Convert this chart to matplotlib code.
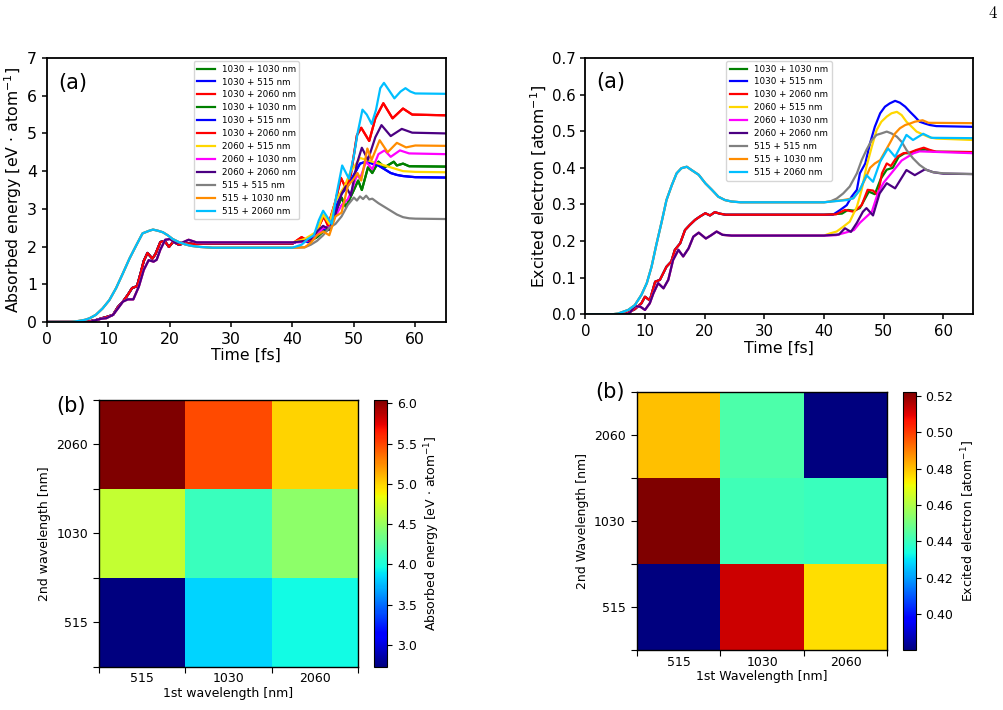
import matplotlib
matplotlib.use("Agg")
import matplotlib.pyplot as plt
import numpy as np

# ---------------- data: absorbed energy (eV/atom) ----------------
# first pulse (shared by all curves with the same 1st wavelength)
abs_first_515 = [(0, 0), (4, 0.0), (5.3, 0.03), (6.3, 0.06), (7, 0.1), (8, 0.19), (9.1, 0.36), (10.2, 0.58),
                 (11.3, 0.9), (12.4, 1.29), (13.5, 1.69), (14.6, 2.04), (15.6, 2.35), (16.7, 2.42), (17.3, 2.45),
                 (18.1, 2.42), (18.9, 2.38), (19.7, 2.3), (20.5, 2.2), (21.5, 2.12), (22.5, 2.06), (23.5, 2.02),
                 (25, 1.99), (27, 1.97), (40, 1.97)]
abs_first_1030 = [(0, 0), (6, 0), (7, 0.02), (8, 0.05), (9, 0.1), (9.9, 0.14), (10.8, 0.19), (11.6, 0.4),
                  (12.4, 0.54), (13.2, 0.72), (13.9, 0.9), (14.7, 0.95), (15.3, 1.3), (15.8, 1.62), (16.4, 1.83),
                  (17.2, 1.68), (17.7, 1.8), (18.5, 2.12), (19.2, 2.15), (19.9, 1.99), (20.6, 2.13), (21.5, 2.05),
                  (22.5, 2.09), (24, 2.07), (26, 2.08), (40, 2.08)]
abs_first_2060 = [(0, 0), (7, 0.0), (8, 0.05), (9, 0.09), (9.7, 0.1), (10.8, 0.19), (11.6, 0.36), (12.4, 0.54),
                  (13.2, 0.6), (14.1, 0.6), (15, 0.94), (15.8, 1.38), (16.6, 1.64), (17.4, 1.6), (17.9, 1.65),
                  (18.5, 1.92), (19.3, 2.18), (20.1, 2.2), (20.9, 2.1), (22, 2.1), (23.1, 2.18), (24.4, 2.11),
                  (26, 2.11), (40, 2.11)]
# second pulse, per (1st + 2nd) combination
abs_1030_1030 = [(41.5, 2.2), (42.5, 2.12), (44, 2.25), (45, 2.4), (46, 2.45), (47, 2.9), (48, 3.3), (48.7, 3.05),
                 (50, 3.5), (50.7, 3.75), (51.3, 3.5), (52.3, 4.1), (53, 3.95), (54, 4.25), (55, 4.1), (56.5, 4.25),
                 (57, 4.15), (58, 4.2), (59, 4.13), (65, 4.12)]
abs_1030_515 = [(41.5, 2.2), (42.5, 2.12), (44, 2.3), (45, 2.45), (46, 2.55), (47, 3.0), (48, 3.4), (49, 3.6),
                (50, 3.9), (51, 4.2), (52, 4.25), (53, 4.2), (54, 4.15), (55, 4.05), (56, 3.95), (57, 3.9),
                (58, 3.87), (60, 3.84), (65, 3.83)]
abs_1030_2060 = [(41.5, 2.25), (42.5, 2.15), (43.5, 2.2), (44.5, 2.6), (45.1, 2.8), (45.8, 2.55), (47, 3.2),
                 (47.9, 3.82), (48.7, 3.55), (49.5, 3.9), (50.5, 4.95), (51.2, 5.15), (52.5, 4.8), (53.5, 5.4),
                 (54.8, 5.8), (56.3, 5.4), (58, 5.66), (59.5, 5.5), (65, 5.48)]
abs_2060_515 = [(42, 2.2), (44, 2.4), (45, 2.85), (46, 2.6), (47, 3.2), (48.5, 3.6), (49.5, 4.0), (50, 4.1),
                (51, 4.35), (52, 4.3), (53, 4.25), (54, 4.2), (55, 4.15), (56, 4.1), (57, 4.05), (58, 4.0),
                (60, 3.98), (65, 3.97)]
abs_2060_1030 = [(42, 2.12), (44, 2.3), (45, 2.5), (46, 2.5), (47, 2.8), (48, 3.1), (49, 3.25), (49.7, 3.5),
                 (50.5, 3.9), (51, 3.8), (52, 4.25), (53, 4.05), (54, 4.45), (55, 4.55), (56, 4.38), (57.5, 4.55),
                 (59, 4.47), (65, 4.45)]
abs_2060_2060 = [(42, 2.15), (43, 2.2), (44, 2.4), (45, 2.55), (46, 2.45), (47, 2.85), (48, 3.4), (48.7, 3.6),
                 (49.5, 3.35), (50.5, 4.2), (51.3, 4.62), (52.3, 4.3), (53.5, 4.9), (54.5, 5.22), (56, 4.93),
                 (57.8, 5.12), (59.5, 5.02), (65, 5.0)]
abs_515_515 = [(42, 1.98), (43, 2.05), (44, 2.15), (45, 2.3), (46, 2.5), (47, 2.6), (48, 2.8), (49, 3.1),
               (50, 3.3), (50.5, 3.22), (51, 3.33), (51.5, 3.26), (52, 3.35), (52.5, 3.25), (53, 3.27), (54, 3.15),
               (55, 3.05), (56, 2.95), (57, 2.85), (58, 2.78), (59, 2.75), (60, 2.74), (65, 2.73)]
abs_515_1030 = [(42, 1.98), (43, 2.1), (44, 2.3), (45, 2.4), (46, 2.3), (47, 2.8), (48, 2.9), (49, 3.6),
                (50, 3.8), (50.6, 3.95), (51.2, 3.75), (52.2, 4.6), (52.9, 4.3), (54.2, 4.82), (55.5, 4.5),
                (57, 4.75), (58.5, 4.63), (60, 4.68), (65, 4.67)]
abs_515_2060 = [(41.5, 2.05), (42.5, 2.2), (43.5, 2.3), (44.3, 2.7), (45, 2.95), (45.8, 2.75), (46.4, 2.6),
                (47.2, 3.4), (48.1, 4.15), (49.2, 3.8), (50, 4.4), (50.6, 5.0), (51.4, 5.63), (52.1, 5.5),
                (52.9, 5.25), (53.6, 5.62), (54.3, 6.2), (54.9, 6.34), (55.7, 6.15), (56.6, 5.93), (57.6, 6.11),
                (58.4, 6.2), (59.2, 6.11), (60, 6.06), (65, 6.05)]

# ---------------- data: excited electrons (1/atom) ----------------
exc_first_515 = [(0, 0), (4.5, 0), (5.5, 0.002), (7.2, 0.012), (8.3, 0.025), (9.4, 0.053), (10.3, 0.085),
                 (11.1, 0.13), (11.9, 0.19), (12.8, 0.253), (13.6, 0.312), (14.5, 0.353), (15.3, 0.385),
                 (16.1, 0.399), (17, 0.403), (17.8, 0.394), (19, 0.381), (20.1, 0.358), (21.2, 0.34),
                 (22.3, 0.321), (23.4, 0.312), (24.5, 0.308), (26, 0.306), (40, 0.306)]
exc_first_1030 = [(0, 0), (6, 0), (6.9, 0.002), (8.3, 0.014), (9.4, 0.03), (10, 0.048), (10.8, 0.038),
                  (11.7, 0.089), (12.5, 0.094), (13.6, 0.13), (14.4, 0.144), (15, 0.176), (15.9, 0.194),
                  (16.7, 0.23), (17.5, 0.244), (18.4, 0.258), (19.2, 0.267), (20.1, 0.276), (20.9, 0.27),
                  (21.7, 0.279), (22.5, 0.275), (23.5, 0.272), (25, 0.272), (40, 0.272)]
exc_first_2060 = [(0, 0), (7, 0), (7.5, 0.005), (8.3, 0.022), (9.2, 0.021), (10, 0.012), (10.8, 0.03),
                  (11.4, 0.057), (12.2, 0.085), (13.1, 0.071), (13.9, 0.094), (14.7, 0.148), (15.6, 0.176),
                  (16.4, 0.158), (17.3, 0.18), (18.1, 0.212), (19, 0.223), (20.2, 0.207), (21, 0.215),
                  (22, 0.226), (23, 0.217), (24.5, 0.215), (40, 0.215)]
exc_1030_1030 = [(43, 0.275), (44, 0.285), (45, 0.283), (46, 0.29), (47.5, 0.335), (48.5, 0.328), (49.5, 0.37),
                 (50.5, 0.395), (51.5, 0.4), (52.5, 0.43), (53.5, 0.44), (54.5, 0.44), (55.5, 0.448), (57, 0.45),
                 (58.5, 0.444), (65, 0.443)]
exc_1030_515 = [(41.5, 0.272), (42.7, 0.285), (43.8, 0.298), (44.6, 0.321), (45.5, 0.34), (46, 0.385),
                (46.9, 0.412), (47.7, 0.467), (48.5, 0.512), (49.4, 0.549), (50.2, 0.567), (51, 0.576),
                (51.9, 0.583), (52.7, 0.578), (53.6, 0.567), (54.4, 0.553), (55.2, 0.54), (56, 0.526),
                (56.9, 0.521), (57.7, 0.517), (58.8, 0.514), (65, 0.512)]
exc_1030_2060 = [(42, 0.273), (43.5, 0.285), (45, 0.28), (46.3, 0.298), (47.3, 0.34), (48.2, 0.338), (49, 0.325),
                 (49.7, 0.385), (50.5, 0.412), (51.2, 0.405), (52.2, 0.43), (53.3, 0.44), (54.4, 0.442),
                 (55.5, 0.449), (56.7, 0.455), (57.7, 0.449), (58.8, 0.444), (65, 0.443)]
exc_2060_515 = [(41, 0.221), (42.1, 0.226), (43.2, 0.239), (44.3, 0.253), (45.5, 0.294), (46.3, 0.34),
                (47.1, 0.403), (48, 0.458), (48.8, 0.503), (49.6, 0.526), (50.5, 0.54), (51.3, 0.549),
                (52.2, 0.553), (53, 0.544), (53.8, 0.526), (54.7, 0.512), (55.5, 0.499), (56.7, 0.49),
                (57.7, 0.483), (58.8, 0.48), (65, 0.476)]
exc_2060_1030 = [(42, 0.216), (44, 0.225), (45, 0.23), (46, 0.25), (47, 0.265), (48, 0.28), (49, 0.33),
                 (50, 0.36), (51, 0.38), (52, 0.4), (53, 0.42), (54, 0.43), (55, 0.44), (56, 0.445), (65, 0.44)]
exc_2060_2060 = [(42.5, 0.218), (43.5, 0.235), (44.5, 0.225), (45.5, 0.25), (46.5, 0.28), (47.1, 0.29),
                 (48.2, 0.27), (49.3, 0.33), (50.5, 0.358), (51.9, 0.344), (53.8, 0.394), (55.2, 0.38),
                 (56.9, 0.396), (58.3, 0.388), (60, 0.384), (65, 0.383)]
exc_515_515 = [(41, 0.308), (42.1, 0.316), (43.2, 0.33), (44.3, 0.349), (45.5, 0.385), (46.3, 0.421),
               (47.1, 0.449), (48, 0.476), (48.8, 0.49), (49.6, 0.494), (50.5, 0.499), (51.3, 0.494),
               (52.2, 0.485), (53, 0.471), (53.8, 0.449), (54.9, 0.426), (56, 0.408), (57.2, 0.394),
               (58.3, 0.388), (60, 0.385), (65, 0.383)]
exc_515_1030 = [(43.2, 0.312), (44.9, 0.317), (46, 0.34), (46.9, 0.37), (47.7, 0.4), (48.5, 0.412),
                (49.4, 0.421), (50.2, 0.444), (51, 0.467), (51.9, 0.494), (52.7, 0.508), (53.6, 0.517),
                (54.4, 0.521), (55.2, 0.526), (56.5, 0.53), (57.5, 0.523), (65, 0.522)]
exc_515_2060 = [(43.8, 0.312), (44.9, 0.317), (46, 0.34), (47.1, 0.38), (48.2, 0.362), (49.4, 0.417),
                (50.7, 0.453), (51.9, 0.43), (53.8, 0.49), (54.9, 0.476), (56.6, 0.493), (58, 0.482),
                (65, 0.481)]

# ---------------- heat-map values (rows: 2nd = 515, 1030, 2060; cols: 1st = 515, 1030, 2060) ----------------
wavelengths = ["515", "1030", "2060"]
abs_final = [[2.73, 3.83, 3.97],
             [4.67, 4.12, 4.45],
             [6.04, 5.48, 5.00]]
exc_final = [[0.3806, 0.512, 0.476],
             [0.522, 0.441, 0.440],
             [0.480, 0.443, 0.3804]]

# ---------------- styles ----------------
col = {"1030 + 1030 nm": "green", "1030 + 515 nm": "blue", "1030 + 2060 nm": "red",
       "2060 + 515 nm": "gold", "2060 + 1030 nm": "magenta", "2060 + 2060 nm": "indigo",
       "515 + 515 nm": "gray", "515 + 1030 nm": "darkorange", "515 + 2060 nm": "deepskyblue"}

abs_curves = [("1030 + 1030 nm", abs_first_1030, abs_1030_1030),
              ("1030 + 515 nm", abs_first_1030, abs_1030_515),
              ("1030 + 2060 nm", abs_first_1030, abs_1030_2060),
              ("1030 + 1030 nm", abs_first_1030, abs_1030_1030),
              ("1030 + 515 nm", abs_first_1030, abs_1030_515),
              ("1030 + 2060 nm", abs_first_1030, abs_1030_2060),
              ("2060 + 515 nm", abs_first_2060, abs_2060_515),
              ("2060 + 1030 nm", abs_first_2060, abs_2060_1030),
              ("2060 + 2060 nm", abs_first_2060, abs_2060_2060),
              ("515 + 515 nm", abs_first_515, abs_515_515),
              ("515 + 1030 nm", abs_first_515, abs_515_1030),
              ("515 + 2060 nm", abs_first_515, abs_515_2060)]
exc_curves = [("1030 + 1030 nm", exc_first_1030, exc_1030_1030),
              ("1030 + 515 nm", exc_first_1030, exc_1030_515),
              ("1030 + 2060 nm", exc_first_1030, exc_1030_2060),
              ("2060 + 515 nm", exc_first_2060, exc_2060_515),
              ("2060 + 1030 nm", exc_first_2060, exc_2060_1030),
              ("2060 + 2060 nm", exc_first_2060, exc_2060_2060),
              ("515 + 515 nm", exc_first_515, exc_515_515),
              ("515 + 1030 nm", exc_first_515, exc_515_1030),
              ("515 + 2060 nm", exc_first_515, exc_515_2060)]

W, H = 1004, 710
fig = plt.figure(figsize=(W / 100, H / 100), dpi=100)


def box(l, t, r, b):
    return [l / W, 1 - b / H, (r - l) / W, (b - t) / H]


def line_panel(ax, curves, ylim, ylabel, tsize):
    for lab, p1, p2 in curves:
        pts = p1 + p2
        t = [p[0] for p in pts]
        v = [p[1] for p in pts]
        ax.plot(t, v, color=col[lab], lw=1.6, label=lab)
    ax.set_xlim(0, 65)
    ax.set_ylim(*ylim)
    ax.set_xlabel("Time [fs]", fontsize=11.3, labelpad=1)
    ax.set_ylabel(ylabel, fontsize=11.3, labelpad=2)
    ax.tick_params(labelsize=tsize, width=1.1)
    for s in ax.spines.values():
        s.set_linewidth(1.3)
    ax.text(0.028, 0.945, "(a)", transform=ax.transAxes, fontsize=15, va="top", ha="left")
    ax.legend(loc="upper center", fontsize=6.3, handlelength=2.0, borderaxespad=0.35,
              labelspacing=0.45, borderpad=0.4)


ax1 = fig.add_axes(box(46.7, 58, 446, 322))
line_panel(ax1, abs_curves, (0, 7), r"Absorbed energy [eV $\cdot$ atom$^{-1}$]", 11.3)
ax1.set_yticks(np.arange(0, 8, 1))

ax2 = fig.add_axes(box(585.3, 58, 973.3, 314.3))
line_panel(ax2, exc_curves, (0, 0.7), r"Excited electron [atom$^{-1}$]", 10.8)
ax2.set_yticks(np.arange(0, 0.71, 0.1))


def heat_panel(ax_box, cb_box, data, vmin, vmax, xl, yl, cbl, cticks, blab_pos):
    ax = fig.add_axes(box(*ax_box))
    im = ax.imshow(np.array(data), cmap="jet", vmin=vmin, vmax=vmax, origin="lower",
                   extent=(0, 3, 0, 3), aspect="auto", interpolation="nearest")
    ax.set_xticks([0.5, 1.5, 2.5])
    ax.set_xticklabels(wavelengths)
    ax.set_yticks([0.5, 1.5, 2.5])
    ax.set_yticklabels(wavelengths)
    ax.set_xticks([0, 1, 2, 3], minor=True)
    ax.set_yticks([0, 1, 2, 3], minor=True)
    ax.tick_params(axis="x", which="major", length=0, labelsize=9, pad=4)
    ax.tick_params(axis="y", which="major", length=4.5, width=0.8, labelsize=9)
    ax.tick_params(which="minor", length=4.5, width=0.8)
    ax.set_xlabel(xl, fontsize=9, labelpad=1)
    ax.set_ylabel(yl, fontsize=9)
    for s in ax.spines.values():
        s.set_linewidth(1.0)
    cax = fig.add_axes(box(*cb_box))
    cb = fig.colorbar(im, cax=cax)
    cb.set_ticks(cticks)
    cb.ax.tick_params(labelsize=9, width=0.8, length=3.5)
    cb.set_label(cbl, fontsize=9)
    cb.outline.set_linewidth(0.8)
    fig.text(blab_pos[0] / W, 1 - blab_pos[1] / H, "(b)", fontsize=15, va="top", ha="left")
    return ax


heat_panel((99.3, 400, 357.7, 666.7), (374, 400, 387.3, 666.7), abs_final, 2.73, 6.04,
           "1st wavelength [nm]", "2nd wavelength [nm]", r"Absorbed energy [eV $\cdot$ atom$^{-1}$]",
           [3.0, 3.5, 4.0, 4.5, 5.0, 5.5, 6.0], (56, 396))
heat_panel((637, 392.3, 887.3, 650), (902.7, 392.3, 915.7, 650), exc_final, 0.3804, 0.5219,
           "1st Wavelength [nm]", "2nd Wavelength [nm]", r"Excited electron [atom$^{-1}$]",
           [0.40, 0.42, 0.44, 0.46, 0.48, 0.50, 0.52], (595, 382))

fig.text(993 / W, 1 - 13 / H, "4", fontsize=12, family="cmr10", ha="center", va="center")

fig.savefig("out.png", dpi=100)
